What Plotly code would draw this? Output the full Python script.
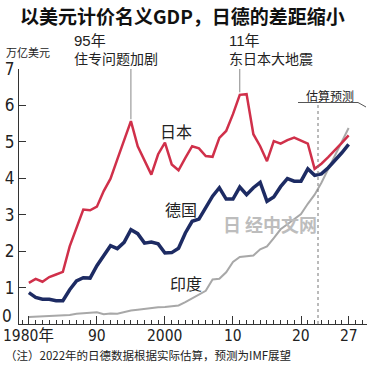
import plotly.graph_objects as go

years = list(range(1980, 2028))
japan = [1.13, 1.24, 1.16, 1.29, 1.36, 1.43, 2.13, 2.63, 3.14, 3.12,
         3.22, 3.65, 3.99, 4.52, 5.07, 5.57, 4.88, 4.47, 4.10, 4.66,
         4.98, 4.38, 4.22, 4.56, 4.88, 4.82, 4.61, 4.59, 5.11, 5.30,
         5.76, 6.29, 6.31, 5.21, 4.88, 4.47, 5.02, 4.95, 5.05, 5.12,
         5.04, 4.95, 4.26, 4.40, 4.58, 4.77, 4.97, 5.18]
germany = [0.86, 0.73, 0.68, 0.68, 0.64, 0.64, 0.94, 1.18, 1.27, 1.26,
           1.60, 1.87, 2.15, 2.07, 2.24, 2.59, 2.48, 2.22, 2.25, 2.20,
           1.95, 1.96, 2.08, 2.50, 2.82, 2.88, 3.19, 3.51, 3.74, 3.43,
           3.43, 3.76, 3.55, 3.74, 3.89, 3.37, 3.49, 3.77, 3.99, 3.92,
           3.92, 4.26, 4.08, 4.12, 4.29, 4.48, 4.70, 4.93]
india = [0.19, 0.20, 0.21, 0.22, 0.22, 0.24, 0.25, 0.28, 0.30, 0.30,
         0.32, 0.27, 0.29, 0.28, 0.33, 0.37, 0.39, 0.42, 0.43, 0.46,
         0.47, 0.49, 0.51, 0.60, 0.70, 0.80, 0.91, 1.22, 1.24, 1.42,
         1.70, 1.84, 1.86, 1.88, 2.05, 2.13, 2.36, 2.60, 2.74, 2.88,
         3.02, 3.30, 3.55, 3.88, 4.25, 4.65, 5.00, 5.38]

xtick_vals = [1980, 1990, 2000, 2010, 2020, 2027]
xtick_text = ["1980年", "90", "2000", "10", "20", "27"]
ytick_vals = [0, 1, 2, 3, 4, 5, 6, 7]
ytick_text = ["", "1", "2", "3", "4", "5", "6", "7"]

W, H = 370, 368
L, R, T, B = 19, 3, 69, 44
PW, PH = W - L - R, H - T - B

def px(x):
    return (x - L) / PW

def py(y):
    return (H - B - y) / PH

CJK = "Noto Sans CJK SC"
NUM = "Liberation Sans Narrow, DejaVu Sans Condensed, Liberation Sans, sans-serif"
RED = "#d0304a"
BLUE = "#1d2b63"
GRAY = "#a8a8a8"

fig = go.Figure()
fig.add_trace(go.Scatter(x=years, y=india, mode="lines",
                         line=dict(color=GRAY, width=2), name="印度"))
fig.add_trace(go.Scatter(x=years, y=germany, mode="lines",
                         line=dict(color=BLUE, width=3.5), name="德国"))
fig.add_trace(go.Scatter(x=years, y=japan, mode="lines",
                         line=dict(color=RED, width=2.5), name="日本"))

ann = []
def text(x, y, s, size, color="#222", xanchor="left", yanchor="middle", font=CJK, **kw):
    ann.append(dict(x=px(x), y=py(y), xref="paper", yref="paper", text=s,
                    showarrow=False, xanchor=xanchor, yanchor=yanchor,
                    font=dict(family=font, size=size, color=color), **kw))

text(182, 15, "<b>以美元计价名义GDP，日德的差距缩小</b>", 19, color="#111", xanchor="center")
text(4, 52, "万亿美元", 11)
text(72, 41, "95年", 15, font="Liberation Sans, " + CJK)
text(72, 58, "住专问题加剧", 14)
text(227, 41, "11年", 15, font="Liberation Sans, " + CJK)
text(227, 58, "东日本大地震", 14)
text(304, 95, "估算预测", 12)
text(176, 131, "日本", 16, xanchor="center")
text(181, 209, "德国", 16, xanchor="center")
text(186, 283, "印度", 16, xanchor="center")
text(3, 355, "（注）2022年的日德数据根据实际估算，预测为IMF展望", 11.5)
text(14, 316, "0", 17, xanchor="right", font=NUM)
ann.append(dict(x=px(270), y=py(224), xref="paper", yref="paper", text="日 经中文网",
                showarrow=False, xanchor="center", yanchor="middle",
                font=dict(family=CJK, size=18, color="#bdbdbd", weight="bold")))
# x tick labels drawn as axis-anchored annotations for exact vertical placement
for v, t in zip(xtick_vals, xtick_text):
    ann.append(dict(x=v, y=py(335.5), xref="x", yref="paper", text=t,
                    showarrow=False, xanchor="center", yanchor="middle",
                    font=dict(family=NUM + ", " + CJK, size=15.5, color="#222")))

shapes = [
    dict(type="line", xref="x", yref="y", x0=1995, x1=1995, y0=5.62, y1=7.0,
         line=dict(color="#888", width=1)),
    dict(type="line", xref="x", yref="y", x0=2011, x1=2011, y0=6.36, y1=7.0,
         line=dict(color="#888", width=1)),
    dict(type="line", xref="x", yref="y", x0=2022.5, x1=2022.5, y0=0, y1=6.06,
         line=dict(color="#777", width=1, dash="dot")),
    dict(type="line", xref="paper", yref="paper", x0=px(298), x1=px(358),
         y0=py(102.5), y1=py(102.5), line=dict(color="#555", width=1)),
    dict(type="line", xref="paper", yref="paper", x0=px(358), x1=px(366),
         y0=py(102.5), y1=py(107), line=dict(color="#555", width=1)),
]

fig.update_layout(
    width=W, height=H,
    margin=dict(l=L, r=R, t=T, b=B, autoexpand=False),
    paper_bgcolor="white", plot_bgcolor="white",
    showlegend=False,
    annotations=ann, shapes=shapes,
    xaxis=dict(range=[1978.55, 2029.7], tickvals=xtick_vals, showticklabels=False,
               automargin=False,
               ticks="inside", ticklen=8, tickcolor="#333", tickwidth=1,
               showline=True, linecolor="#333", linewidth=1.2,
               showgrid=False, zeroline=False,
               minor=dict(ticks="inside", ticklen=4, tickcolor="#333", dtick=1, tick0=1980, showgrid=False)),
    yaxis=dict(range=[0, 7], tickvals=ytick_vals, ticktext=ytick_text, automargin=False,
               ticks="inside", ticklen=7, tickcolor="#333", tickwidth=1,
               showline=True, linecolor="#333", linewidth=1.2,
               showgrid=False, zeroline=False, ticklabelstandoff=0,
               tickfont=dict(family=NUM, size=17, color="#222")),
)

fig.write_html("out.html", config={"displayModeBar": False},
               post_script="document.body.style.margin='0';document.body.style.overflow='hidden';")
